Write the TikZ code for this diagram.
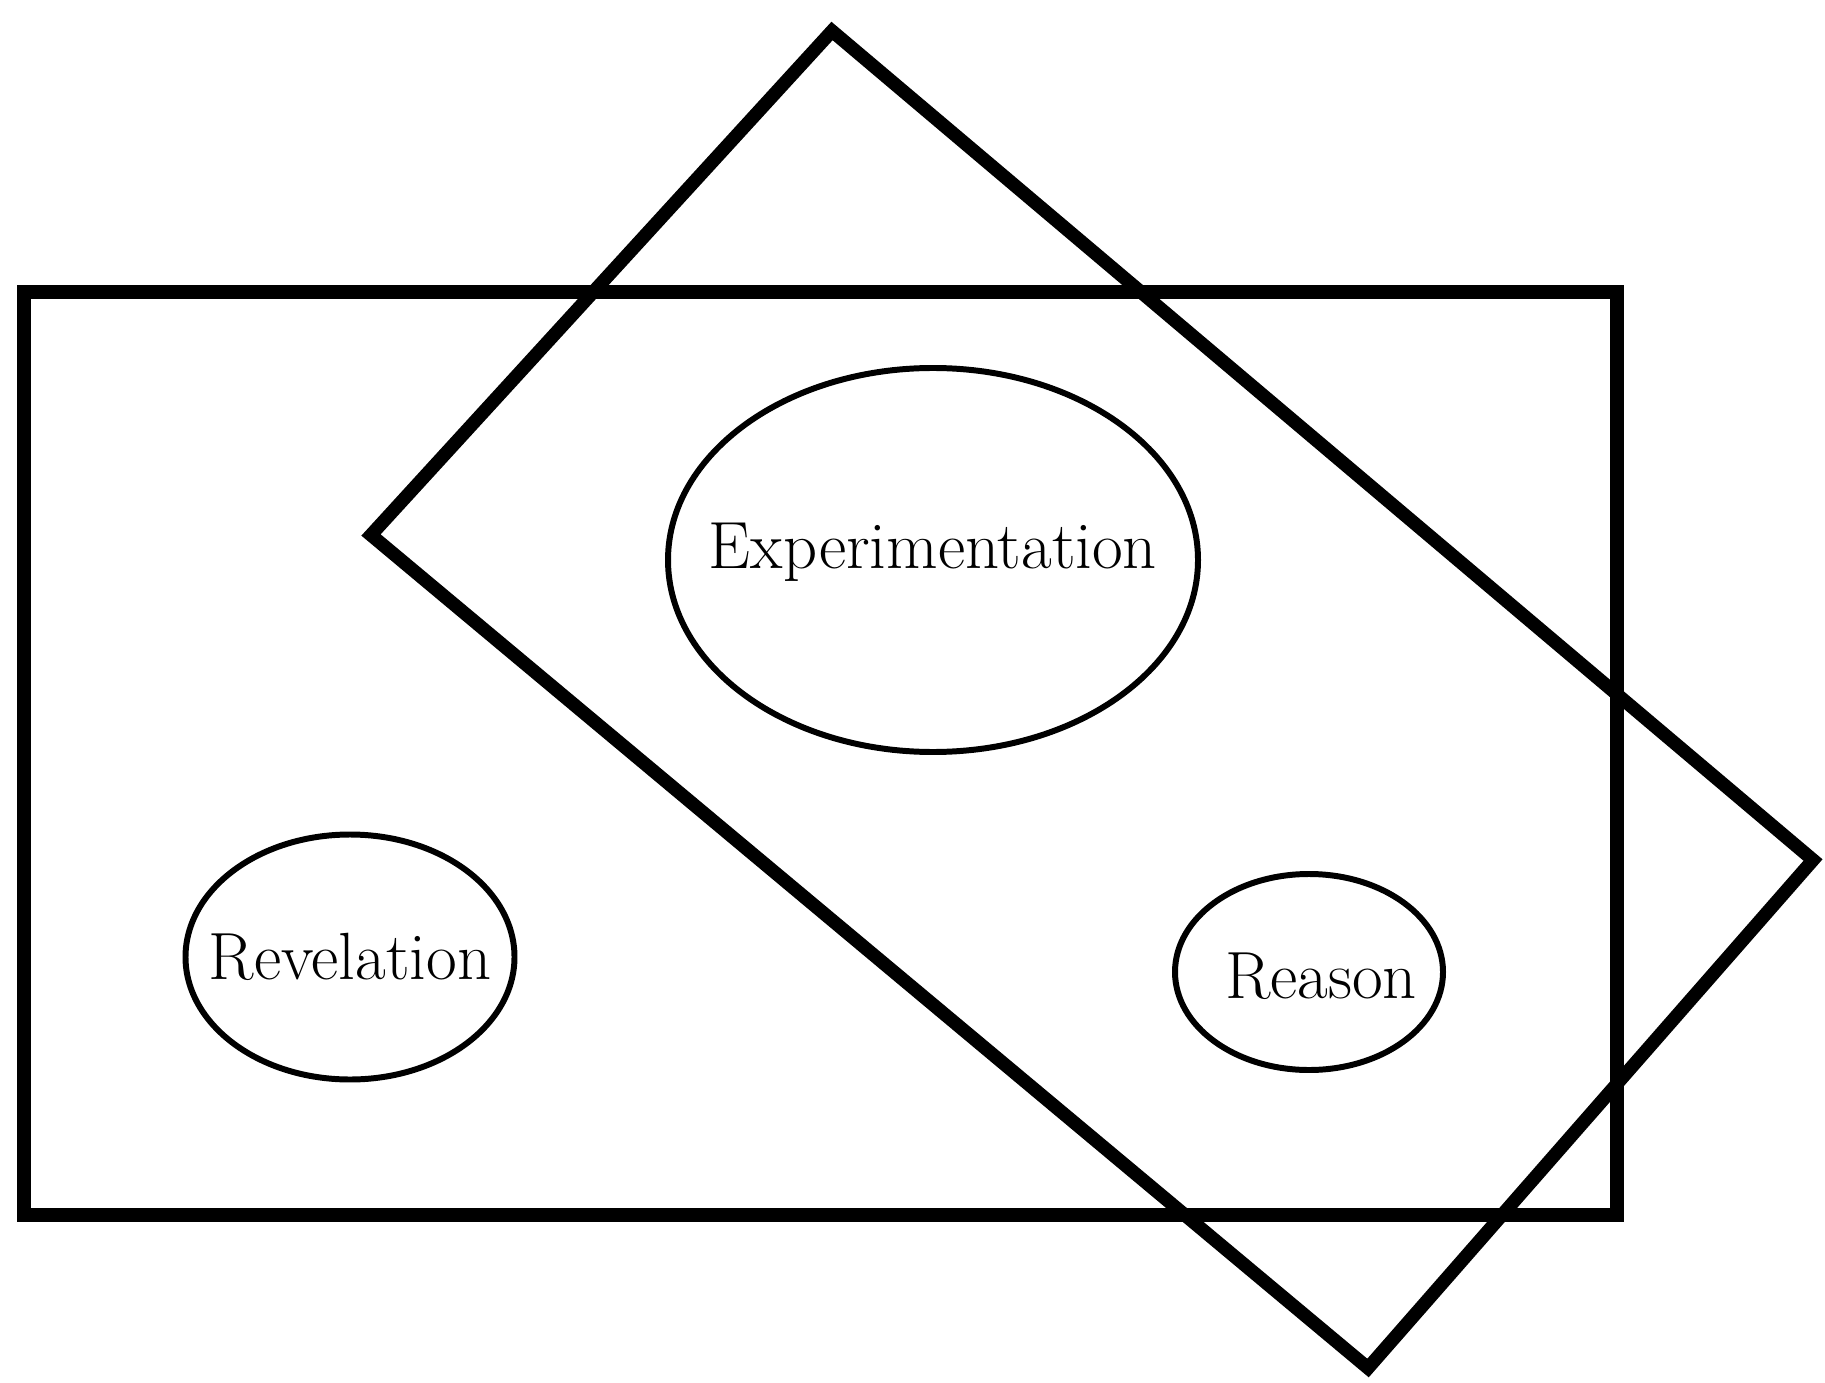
\documentclass[tikz,border=0pt]{standalone}
\usetikzlibrary{shapes.geometric}
\tikzset{
    frame/.style={line width=3.8pt},
    topic/.style={draw, ellipse, line width=1.7pt, inner sep=0pt},
    word/.style={inner sep=0pt, font=\fontsize{19}{23}\selectfont},
}
\begin{document}
\begin{tikzpicture}
    \useasboundingbox (0,0) rectangle (18.25,13.82);

    % Upright rectangle
    \draw[frame] (0.24,1.67) rectangle (16.17,10.90);

    % Tilted rectangle
    \draw[frame] (8.32,13.51) -- (18.13,5.22) -- (13.68,0.14) -- (3.71,8.47) -- cycle;

    % Ellipses
    \node[topic, minimum width=5.30cm, minimum height=3.84cm] (exp) at (9.33,8.22) {};
    \node[topic, minimum width=3.29cm, minimum height=2.45cm] (rev) at (3.50,4.25) {};
    \node[topic, minimum width=2.68cm, minimum height=1.96cm] (rea) at (13.09,4.10) {};

    % Labels
    \node[word] (explabel) at (9.33,8.30) {Experimentation};
    \node[word] (revlabel) at (3.50,4.25) {Revelation};
    \node[word] (realabel) at (13.21,4.06) {Reason};
\end{tikzpicture}
\end{document}
